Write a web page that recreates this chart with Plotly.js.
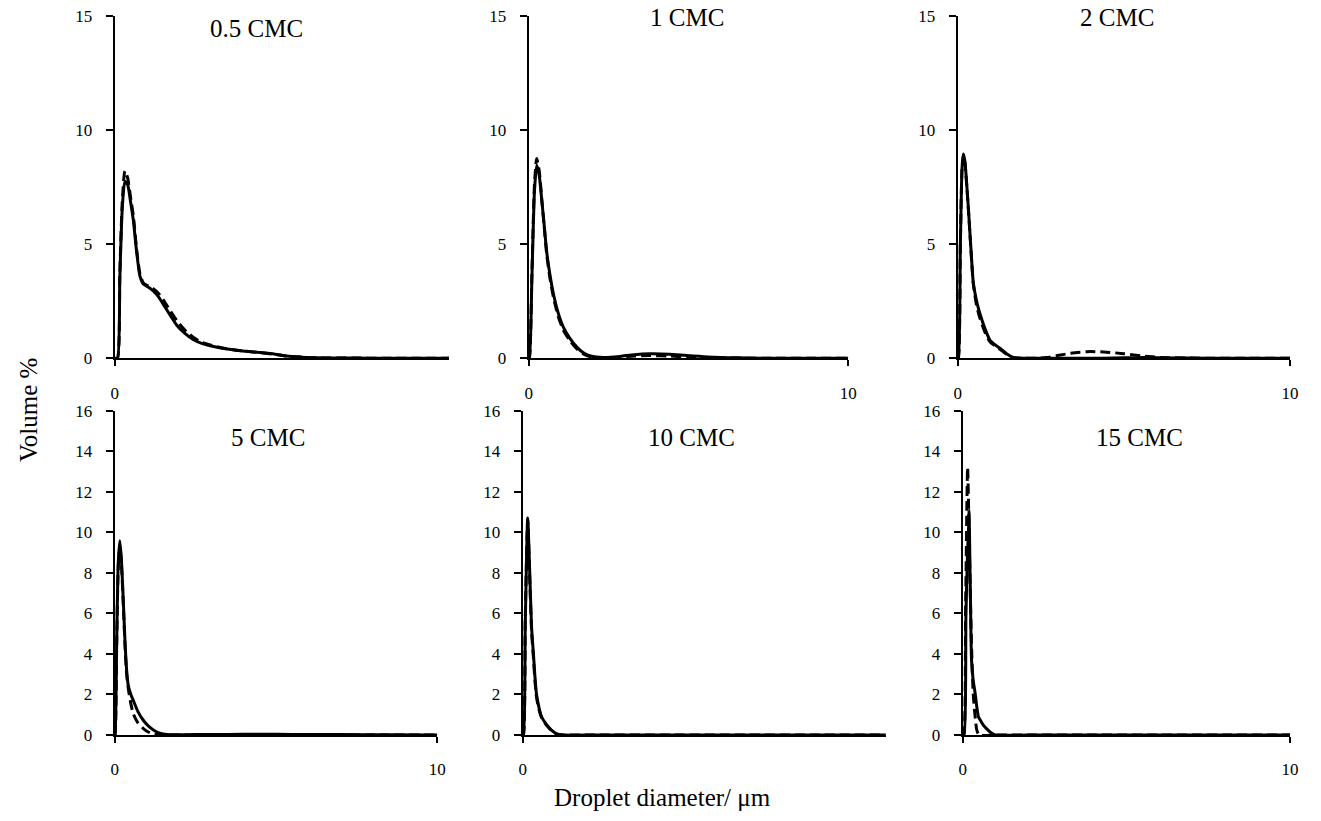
<!DOCTYPE html>
<html>
<head>
<meta charset="utf-8">
<script src="https://cdn.plot.ly/plotly-3.0.1.min.js"></script>
<style>html,body{margin:0;padding:0;background:#fff;}#chart{width:1321px;height:821px;}</style>
</head>
<body>
<div id="chart"></div>
<script>
// ---- data ----
const panelTitles = ["0.5 CMC", "1 CMC", "2 CMC", "5 CMC", "10 CMC", "15 CMC"];
const xTickVals = [0, 10];
const xTickText = ["0", "10"];

// 0.5 CMC
const x05 = [0, 0.08, 0.15, 0.22, 0.3, 0.38, 0.46, 0.55, 0.64, 0.74, 0.84, 1.0, 1.13, 1.28, 1.43, 1.62, 1.82, 2.05, 2.3, 2.55, 2.8, 3.2, 3.7, 4.26, 4.7, 5.04, 5.5, 5.9, 7, 8, 9, 9.8];
const s05 = [0, 0, 3.5, 6.5, 7.75, 7.6, 6.9, 6.0, 4.7, 3.6, 3.25, 3.1, 2.95, 2.7, 2.35, 1.9, 1.45, 1.1, 0.82, 0.65, 0.55, 0.43, 0.33, 0.25, 0.18, 0.1, 0.05, 0.02, 0.01, 0, 0, 0];
const d05 = [0, 0, 3.7, 6.8, 8.2, 7.9, 7.1, 6.2, 4.8, 3.7, 3.3, 3.15, 3.05, 2.85, 2.55, 2.1, 1.65, 1.25, 0.92, 0.7, 0.58, 0.44, 0.33, 0.25, 0.17, 0.1, 0.05, 0.02, 0.01, 0, 0, 0];

// 1 CMC
const x1 = [0, 0.02, 0.1, 0.18, 0.25, 0.33, 0.41, 0.48, 0.56, 0.66, 0.77, 0.92, 1.08, 1.3, 1.5, 1.7, 1.93, 2.35, 2.86, 3.3, 3.8, 4.4, 4.94, 5.6, 6.5, 8, 10];
const s1 = [0, 0, 3.5, 7.3, 8.45, 8.0, 6.9, 5.9, 4.7, 3.7, 2.85, 2.0, 1.38, 0.85, 0.5, 0.25, 0.1, 0.03, 0.08, 0.16, 0.2, 0.18, 0.12, 0.06, 0.02, 0, 0];
const d1 = [0, 0, 3.7, 7.6, 8.75, 8.2, 6.95, 5.85, 4.6, 3.55, 2.7, 1.85, 1.25, 0.75, 0.42, 0.2, 0.07, 0.02, 0.05, 0.1, 0.12, 0.1, 0.06, 0.03, 0.01, 0, 0];

// 2 CMC
const x2 = [0, 0.02, 0.08, 0.13, 0.17, 0.22, 0.27, 0.32, 0.37, 0.42, 0.47, 0.57, 0.67, 0.82, 0.97, 1.12, 1.27, 1.47, 1.67, 2.0, 2.4, 2.68, 3.0, 3.4, 3.88, 4.4, 5.0, 5.6, 6.1, 7, 8, 10];
const s2 = [0, 0, 5.0, 8.3, 8.95, 8.6, 7.65, 6.6, 5.45, 4.3, 3.3, 2.5, 1.95, 1.3, 0.8, 0.6, 0.44, 0.2, 0.04, 0, 0, 0, 0, 0, 0, 0, 0.02, 0.03, 0.02, 0.01, 0, 0];
const d2 = [0, 0, 5.0, 8.3, 8.9, 8.5, 7.6, 6.55, 5.4, 4.25, 3.25, 2.3, 1.75, 1.15, 0.72, 0.55, 0.4, 0.18, 0.03, 0, 0, 0.03, 0.12, 0.22, 0.29, 0.28, 0.2, 0.1, 0.04, 0.01, 0, 0];

// 5 CMC
const x5 = [0, 0.01, 0.06, 0.11, 0.16, 0.21, 0.27, 0.32, 0.37, 0.42, 0.5, 0.57, 0.72, 0.88, 1.04, 1.2, 1.35, 1.5, 1.8, 2.5, 3.5, 4.5, 5.5, 7, 8.5, 10];
const s5 = [0, 0, 4.5, 8.5, 9.58, 8.6, 6.5, 4.6, 3.2, 2.45, 2.0, 1.73, 1.15, 0.74, 0.45, 0.25, 0.12, 0.05, 0.01, 0.02, 0.03, 0.04, 0.03, 0.02, 0.01, 0];
const d5 = [0, 0, 4.3, 8.3, 9.35, 8.4, 6.3, 4.4, 3.0, 2.3, 1.55, 1.07, 0.6, 0.33, 0.15, 0.05, 0.01, 0, 0, 0, 0, 0, 0, 0, 0, 0];

// 10 CMC
const x10 = [0, 0.02, 0.07, 0.135, 0.19, 0.24, 0.29, 0.33, 0.37, 0.44, 0.51, 0.6, 0.69, 0.8, 0.92, 1.1, 2, 4, 6, 8, 9.8];
const s10 = [0, 0, 5.5, 10.7, 8.0, 5.3, 4.0, 2.9, 2.05, 1.35, 0.9, 0.62, 0.41, 0.2, 0.05, 0, 0, 0, 0, 0, 0];
const d10 = [0, 0, 5.8, 10.6, 7.7, 5.1, 3.8, 2.7, 1.9, 1.25, 0.85, 0.58, 0.38, 0.18, 0.04, 0, 0, 0, 0, 0, 0];

// 15 CMC
const x15s = [0, 0.04, 0.1, 0.19, 0.23, 0.27, 0.32, 0.38, 0.43, 0.48, 0.55, 0.63, 0.75, 0.89, 1.0, 2, 4, 6, 8, 10];
const s15 = [0, 0, 6.0, 11.1, 7.5, 3.7, 2.7, 2.06, 1.4, 0.9, 0.7, 0.49, 0.28, 0.08, 0, 0, 0, 0, 0, 0];
const x15d = [0, 0.03, 0.09, 0.15, 0.2, 0.26, 0.32, 0.38, 0.43, 0.5, 1, 2, 4, 6, 8, 10];
const d15 = [0, 0, 6.5, 13.2, 9.5, 5.0, 2.06, 0.9, 0.25, 0, 0, 0, 0, 0, 0, 0];

// ---- layout helpers ----
const W = 1321, H = 821;
const px = v => v / W;
const py = v => 1 - v / H;

const panels = [
  {xs: x05, s: s05, xd: x05, d: d05, xr: [0, 9.8], yr: [0, 15], dt: 5, box: [114.7, 449, 15.7, 358.3], tl: [256.7, 29]},
  {xs: x1, s: s1, xd: x1, d: d1, xr: [0, 10], yr: [0, 15], dt: 5, box: [528.7, 848.3, 15.7, 358.3], tl: [686.7, 18]},
  {xs: x2, s: s2, xd: x2, d: d2, xr: [0, 10], yr: [0, 15], dt: 5, box: [957.7, 1290, 15.7, 358.3], tl: [1116.7, 18]},
  {xs: x5, s: s5, xd: x5, d: d5, xr: [0, 10], yr: [0, 16], dt: 2, box: [114.7, 437.3, 410.7, 735], tl: [267.7, 438]},
  {xs: x10, s: s10, xd: x10, d: d10, xr: [0, 9.8], yr: [0, 16], dt: 2, box: [522.7, 885.7, 410.7, 735], tl: [691.7, 438]},
  {xs: x15s, s: s15, xd: x15d, d: d15, xr: [0, 10], yr: [0, 16], dt: 2, box: [962.7, 1290, 410.7, 735], tl: [1139, 438]}
];

const tickFont = {family: "Liberation Serif, Times New Roman, serif", size: 17, color: "#000"};
const titleFont = {family: "Liberation Serif, Times New Roman, serif", size: 25, color: "#000"};

const traces = [];
const layout = {
  width: W, height: H,
  margin: {l: 0, r: 0, t: 0, b: 0},
  paper_bgcolor: "#fff", plot_bgcolor: "#fff",
  showlegend: false,
  annotations: []
};

panels.forEach((p, i) => {
  const n = i + 1;
  const xa = n === 1 ? "x" : "x" + n;
  const ya = n === 1 ? "y" : "y" + n;
  traces.push({x: p.xs, y: p.s, xaxis: xa, yaxis: ya, mode: "lines", type: "scatter",
    line: {color: "#000", width: 3, shape: "spline", smoothing: 0.6}, hoverinfo: "skip"});
  traces.push({x: p.xd, y: p.d, xaxis: xa, yaxis: ya, mode: "lines", type: "scatter",
    line: {color: "#000", width: 3, dash: "10px,5px", shape: "spline", smoothing: 0.6}, hoverinfo: "skip"});
  const xk = n === 1 ? "xaxis" : "xaxis" + n;
  const yk = n === 1 ? "yaxis" : "yaxis" + n;
  layout[xk] = {
    domain: [px(p.box[0]), px(p.box[1])], anchor: ya, range: p.xr,
    showline: true, linecolor: "#000", linewidth: 2, showgrid: false, zeroline: false,
    ticks: "outside", ticklen: 6, tickwidth: 2, tickcolor: "#000",
    tickmode: "array", tickvals: xTickVals, ticktext: xTickText,
    tickfont: tickFont, ticklabelstandoff: 12
  };
  layout[yk] = {
    domain: [py(p.box[3]), py(p.box[2])], anchor: xa, range: p.yr,
    showline: true, linecolor: "#000", linewidth: 2, showgrid: false, zeroline: false,
    ticks: "outside", ticklen: 7, tickwidth: 2, tickcolor: "#000",
    tick0: 0, dtick: p.dt, tickfont: tickFont, ticklabelstandoff: 10
  };
  layout.annotations.push({
    text: panelTitles[i], xref: "paper", yref: "paper",
    x: px(p.tl[0]), y: py(p.tl[1]), xanchor: "center", yanchor: "middle",
    showarrow: false, font: titleFont
  });
});

layout.annotations.push({
  text: "Volume %", xref: "paper", yref: "paper", x: px(28), y: py(410),
  xanchor: "center", yanchor: "middle", textangle: -90, showarrow: false, font: titleFont
});
layout.annotations.push({
  text: "Droplet diameter/ μm", xref: "paper", yref: "paper", x: px(662), y: py(797),
  xanchor: "center", yanchor: "middle", showarrow: false, font: titleFont
});

Plotly.newPlot("chart", traces, layout, {staticPlot: true, displayModeBar: false});
</script>
</body>
</html>
